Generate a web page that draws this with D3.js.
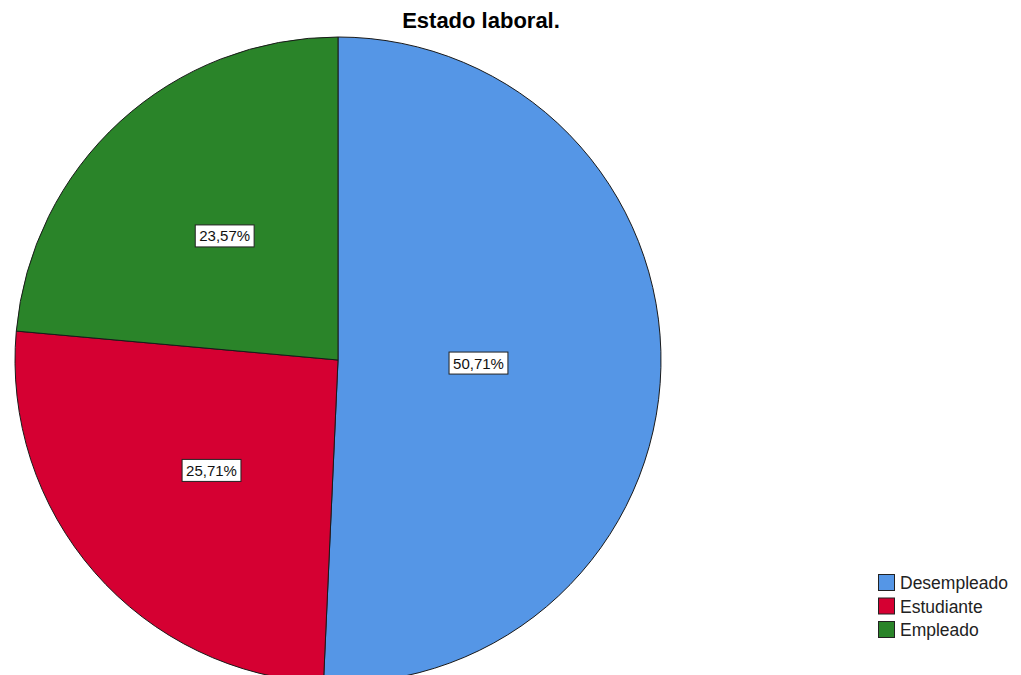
<!DOCTYPE html>
<html>
<head>
<meta charset="utf-8">
<script src="https://cdnjs.cloudflare.com/ajax/libs/d3/7.8.5/d3.min.js"></script>
<style>
  body { margin: 0; background: #fff; }
  svg { display: block; font-family: "Liberation Sans", Arial, sans-serif; }
</style>
</head>
<body>
<div class="chart"></div>
<script>
// datos del grafico
var categories = ["Desempleado", "Estudiante", "Empleado"];
var values = [50.71, 25.71, 23.57];
var labels = ["50,71%", "25,71%", "23,57%"];
var colors = ["#5596e6", "#d50032", "#2a8429"];
var title = "Estado laboral.";

var width = 1021, height = 675;
var cx = 338, cy = 360, radius = 323;

var svg = d3.select(".chart").append("svg")
    .attr("width", width)
    .attr("height", height);

// titulo
svg.append("text")
    .attr("x", 481)
    .attr("y", 28)
    .attr("text-anchor", "middle")
    .style("font-size", "22px")
    .style("font-weight", "bold")
    .text(title);

var pie = d3.pie().sort(null).value(function (d) { return d; });
var arcs = pie(values);

var arc = d3.arc().innerRadius(0).outerRadius(radius);

var g = svg.append("g")
    .attr("transform", "translate(" + cx + "," + cy + ")");

g.selectAll("path.slice")
    .data(arcs)
    .enter()
    .append("path")
    .attr("class", "slice")
    .attr("d", arc)
    .attr("fill", function (d, i) { return colors[i]; })
    .attr("stroke", "#1a1a1a")
    .attr("stroke-width", 1);

// posicion de etiquetas: centroide del sector, limitado a 0.52r
function labelPos(d) {
    var a = (d.endAngle - d.startAngle) / 2;
    var mid = (d.startAngle + d.endAngle) / 2;
    var dist = Math.min(0.52 * radius, 1.04 * 2 * radius * Math.sin(a) / (3 * a));
    return [dist * Math.sin(mid), -dist * Math.cos(mid)];
}

var lab = g.selectAll("g.lab")
    .data(arcs)
    .enter()
    .append("g")
    .attr("class", "lab")
    .attr("transform", function (d) {
        var p = labelPos(d);
        return "translate(" + p[0] + "," + p[1] + ")";
    });

lab.append("text")
    .attr("text-anchor", "middle")
    .attr("dy", "0.36em")
    .style("font-size", "15px")
    .style("fill", "#111")
    .text(function (d, i) { return labels[i]; });

lab.each(function () {
    var t = d3.select(this).select("text");
    var bb = t.node().getBBox();
    d3.select(this).insert("rect", "text")
        .attr("x", bb.x - 4)
        .attr("y", bb.y - 2.5)
        .attr("width", bb.width + 8)
        .attr("height", bb.height + 5)
        .attr("fill", "#fff")
        .attr("stroke", "#222")
        .attr("stroke-width", 1);
});

// leyenda
var legend = svg.append("g")
    .attr("transform", "translate(878, 574)");

var rows = legend.selectAll("g")
    .data(categories)
    .enter()
    .append("g")
    .attr("transform", function (d, i) { return "translate(0," + (i * 23.5) + ")"; });

rows.append("rect")
    .attr("x", 0.5)
    .attr("y", 0.5)
    .attr("width", 16)
    .attr("height", 16)
    .attr("fill", function (d, i) { return colors[i]; })
    .attr("stroke", "#222")
    .attr("stroke-width", 1);

rows.append("text")
    .attr("x", 22)
    .attr("y", 15)
    .style("font-size", "17.5px")
    .style("fill", "#222")
    .text(function (d) { return d; });
</script>
</body>
</html>
